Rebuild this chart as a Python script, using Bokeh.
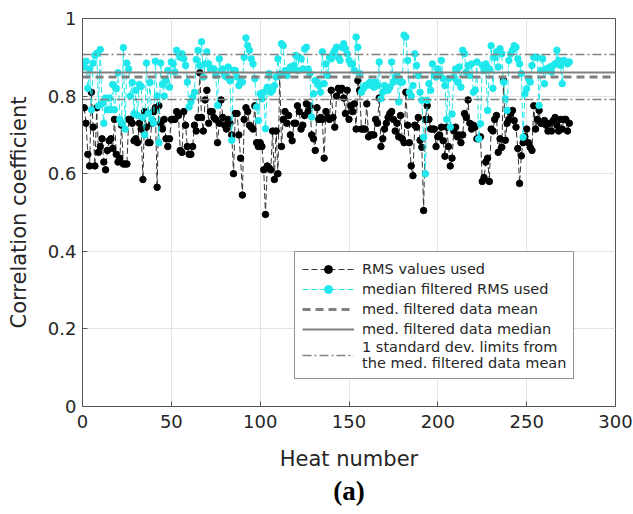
from bokeh.plotting import figure
from bokeh.models import Legend, LegendItem, FixedTicker, CustomJSTickFormatter, Title, Range1d
from bokeh.embed import file_html
from bokeh.resources import INLINE

# ---------------- data ----------------
heat = list(range(1, 275))

rms_values = [
    0.77, 0.73, 0.65, 0.62, 0.81, 0.72, 0.62, 0.77, 0.655, 0.67,
    0.69, 0.63, 0.61, 0.66, 0.685, 0.69, 0.665, 0.74, 0.65, 0.63,
    0.64, 0.725, 0.625, 0.625, 0.625, 0.74, 0.74, 0.73, 0.685, 0.69,
    0.68, 0.73, 0.715, 0.585, 0.76, 0.72, 0.68, 0.68, 0.73, 0.76,
    0.77, 0.565, 0.775, 0.73, 0.715, 0.74, 0.69,
    0.67, 0.69, 0.74, 0.74, 0.74, 0.76, 0.75, 0.66, 0.655, 0.76,
    0.725, 0.67, 0.65, 0.65, 0.67, 0.725, 0.71, 0.745, 0.86, 0.745,
    0.71, 0.79, 0.815, 0.73, 0.76, 0.76, 0.745, 0.74, 0.68, 0.73,
    0.79, 0.745, 0.725, 0.715, 0.74, 0.73, 0.70, 0.60, 0.755, 0.755,
    0.70, 0.64, 0.545, 0.74, 0.77, 0.76,
    0.725, 0.72, 0.715, 0.775, 0.68, 0.67, 0.68, 0.67, 0.61, 0.495,
    0.62, 0.615, 0.61, 0.71, 0.585, 0.71, 0.60, 0.855, 0.67, 0.74,
    0.76, 0.73, 0.75, 0.70, 0.685, 0.73, 0.73, 0.775, 0.76, 0.715,
    0.725, 0.75, 0.78, 0.76, 0.775, 0.70, 0.69, 0.66, 0.77, 0.74,
    0.745, 0.74, 0.64, 0.76, 0.745, 0.74,
    0.815, 0.745, 0.72, 0.80, 0.82, 0.815, 0.82, 0.795, 0.755, 0.815,
    0.74, 0.775, 0.76, 0.78, 0.715, 0.84, 0.815, 0.715, 0.715, 0.715,
    0.78, 0.695, 0.70, 0.70, 0.70, 0.74, 0.73, 0.795, 0.67, 0.69,
    0.715, 0.73, 0.745, 0.755, 0.76, 0.74, 0.71, 0.73, 0.695, 0.75,
    0.69, 0.68, 0.81, 0.725, 0.68, 0.62, 0.595,
    0.725, 0.72, 0.745, 0.686, 0.668, 0.505, 0.74, 0.775, 0.74, 0.715,
    0.715, 0.715, 0.67, 0.695, 0.70, 0.72, 0.685, 0.645, 0.72, 0.67,
    0.62, 0.64, 0.71, 0.72, 0.695, 0.70, 0.68, 0.70, 0.755, 0.745,
    0.79, 0.73, 0.715, 0.725, 0.72, 0.69, 0.69, 0.695, 0.58, 0.59,
    0.63, 0.64, 0.58, 0.715, 0.71, 0.74,
    0.75, 0.655, 0.69, 0.668, 0.84, 0.686, 0.73, 0.74, 0.755, 0.763,
    0.737, 0.72, 0.665, 0.575, 0.646, 0.68, 0.695, 0.715, 0.68, 0.668,
    0.66, 0.775, 0.715, 0.74, 0.763, 0.73, 0.73, 0.737, 0.725, 0.71,
    0.73, 0.71, 0.737, 0.745, 0.725, 0.71, 0.74, 0.715, 0.74, 0.74,
    0.71, 0.73,
]

median_filtered = [
    0.875, 0.89, 0.82, 0.87, 0.765, 0.885, 0.905, 0.91, 0.775, 0.92,
    0.78, 0.73, 0.795, 0.765, 0.795, 0.765, 0.83, 0.765, 0.82, 0.86,
    0.74, 0.73, 0.925, 0.715, 0.885, 0.87, 0.80, 0.835, 0.755, 0.815,
    0.75, 0.83, 0.825, 0.745, 0.70, 0.885, 0.755, 0.835, 0.74, 0.73,
    0.89, 0.80, 0.68, 0.885, 0.83, 0.80, 0.84,
    0.866, 0.823, 0.888, 0.883, 0.862, 0.918, 0.909, 0.90, 0.909, 0.896,
    0.879, 0.836, 0.772, 0.785, 0.797, 0.81, 0.894, 0.918, 0.879, 0.94,
    0.849, 0.883, 0.914, 0.883, 0.87, 0.87, 0.87, 0.853, 0.776, 0.896,
    0.866, 0.87, 0.853, 0.849, 0.875, 0.84, 0.686, 0.866, 0.866, 0.849,
    0.827, 0.836, 0.836, 0.90, 0.95, 0.93,
    0.918, 0.896, 0.883, 0.845, 0.772, 0.737, 0.806, 0.793, 0.81, 0.716,
    0.823, 0.858, 0.81, 0.815, 0.827, 0.849, 0.896, 0.853, 0.935, 0.93,
    0.866, 0.853, 0.866, 0.875, 0.87, 0.879, 0.905, 0.866, 0.90, 0.896,
    0.87, 0.922, 0.926, 0.87, 0.858, 0.746, 0.806, 0.84, 0.836, 0.827,
    0.81, 0.914, 0.832, 0.883, 0.853, 0.90,
    0.896, 0.909, 0.918, 0.926, 0.90, 0.892, 0.926, 0.935, 0.922, 0.909,
    0.892, 0.883, 0.883, 0.866, 0.952, 0.926, 0.858, 0.81, 0.819, 0.827,
    0.827, 0.832, 0.836, 0.827, 0.823, 0.836, 0.827, 0.888, 0.793, 0.81,
    0.827, 0.819, 0.815, 0.823, 0.888, 0.836, 0.849, 0.853, 0.785, 0.836,
    0.836, 0.957, 0.952, 0.892, 0.81, 0.80, 0.827,
    0.909, 0.879, 0.853, 0.81, 0.789, 0.694, 0.60, 0.789, 0.832, 0.815,
    0.883, 0.853, 0.849, 0.87, 0.858, 0.892, 0.845, 0.827, 0.74, 0.845,
    0.72, 0.754, 0.849, 0.87, 0.836, 0.875, 0.823, 0.918, 0.909, 0.862,
    0.879, 0.853, 0.883, 0.81, 0.815, 0.888, 0.69, 0.729, 0.879, 0.866,
    0.883, 0.763, 0.87, 0.93, 0.82, 0.90,
    0.914, 0.875, 0.922, 0.909, 0.836, 0.793, 0.763, 0.892, 0.909, 0.918,
    0.93, 0.926, 0.896, 0.883, 0.858, 0.694, 0.806, 0.819, 0.845, 0.836,
    0.879, 0.90, 0.90, 0.90, 0.776, 0.866, 0.896, 0.832, 0.87, 0.866,
    0.875, 0.862, 0.879, 0.883, 0.918, 0.892, 0.879, 0.832, 0.892, 0.888,
    0.883, 0.888,
]

x_limits = [0, 300]
filtered_mean = 0.849
filtered_median = 0.861
std_upper = 0.907
std_lower = 0.791

x_ticks = [0, 50, 100, 150, 200, 250, 300]
y_ticks = [0, 0.2, 0.4, 0.6, 0.8, 1.0]

FONT = "DejaVu Sans"
TXT = "#262626"
AXC = "#555555"

p = figure(width=633, height=514, output_backend="svg", toolbar_location=None,
           x_range=Range1d(0, 300), y_range=Range1d(0, 1),
           min_border_left=82, min_border_right=18, min_border_top=18,
           min_border_bottom=108, background_fill_color="white",
           border_fill_color="white")

p.outline_line_color = AXC
p.outline_line_width = 1

for ax in (p.xaxis[0], p.yaxis[0]):
    ax.axis_line_color = AXC
    ax.major_tick_line_color = AXC
    ax.major_tick_in = 5
    ax.major_tick_out = 0
    ax.minor_tick_line_color = None
    ax.major_label_text_font = FONT
    ax.major_label_text_font_size = "18px"
    ax.major_label_text_color = TXT
    ax.axis_label_text_font = FONT
    ax.axis_label_text_font_size = "21px"
    ax.axis_label_text_font_style = "normal"
    ax.axis_label_text_color = TXT

p.xaxis.ticker = FixedTicker(ticks=x_ticks)
p.yaxis.ticker = FixedTicker(ticks=y_ticks)
p.yaxis.formatter = CustomJSTickFormatter(code="return String(Math.round(tick*10)/10);")
p.xaxis.axis_label = "Heat number"
p.yaxis.axis_label = "Correlation coefficient"
p.xaxis.axis_label_standoff = 16
p.yaxis.axis_label_standoff = 14
p.xaxis.major_label_standoff = 8
p.yaxis.major_label_standoff = 6

p.xgrid.ticker = FixedTicker(ticks=x_ticks)
p.ygrid.ticker = FixedTicker(ticks=y_ticks)
p.grid.grid_line_color = "#e3e3e3"
p.grid.grid_line_width = 1

# series
r1l = p.line(heat, rms_values, line_color="#333333", line_width=1, line_dash="6 3")
r1s = p.scatter(heat, rms_values, size=6.5, fill_color="black", line_color="black")
cyan = "#1ee8ec"
r2l = p.line(heat, median_filtered, line_color=cyan, line_width=1, line_dash="6 3")
r2s = p.scatter(heat, median_filtered, size=6.5, fill_color=cyan, line_color=cyan)

r3 = p.line(x_limits, [filtered_mean, filtered_mean], line_color="#808080",
            line_width=3, line_dash="8 5")
r4 = p.line(x_limits, [filtered_median, filtered_median], line_color="#808080",
            line_width=2)
r5a = p.line(x_limits, [std_upper, std_upper], line_color="#808080",
             line_width=1.5, line_dash="9 3 2 3")
r5b = p.line(x_limits, [std_lower, std_lower], line_color="#808080",
             line_width=1.5, line_dash="9 3 2 3")

legend = Legend(items=[
    LegendItem(label="RMS values used", renderers=[r1l, r1s]),
    LegendItem(label="median filtered RMS used", renderers=[r2l, r2s]),
    LegendItem(label="med. filtered data mean", renderers=[r3]),
    LegendItem(label="med. filtered data median", renderers=[r4]),
    LegendItem(label="1 standard dev. limits from\nthe med. filtered data mean",
               renderers=[r5a]),
], location=(212, 27))
legend.label_text_font = FONT
legend.label_text_font_size = "14.5px"
legend.label_text_color = TXT
legend.glyph_width = 52
legend.glyph_height = 20
legend.label_height = 20
legend.label_standoff = 8
legend.spacing = 0
legend.padding = 7
legend.margin = 0
legend.border_line_color = "#262626"
legend.border_line_width = 1
legend.background_fill_color = "white"
legend.background_fill_alpha = 1
p.add_layout(legend, "center")

p.add_layout(Title(text="(a)", align="center", text_font="Liberation Serif",
                   text_font_style="bold", text_font_size="27px",
                   text_color="black", standoff=0), "below")

open("out.html", "w").write(file_html(p, INLINE))
